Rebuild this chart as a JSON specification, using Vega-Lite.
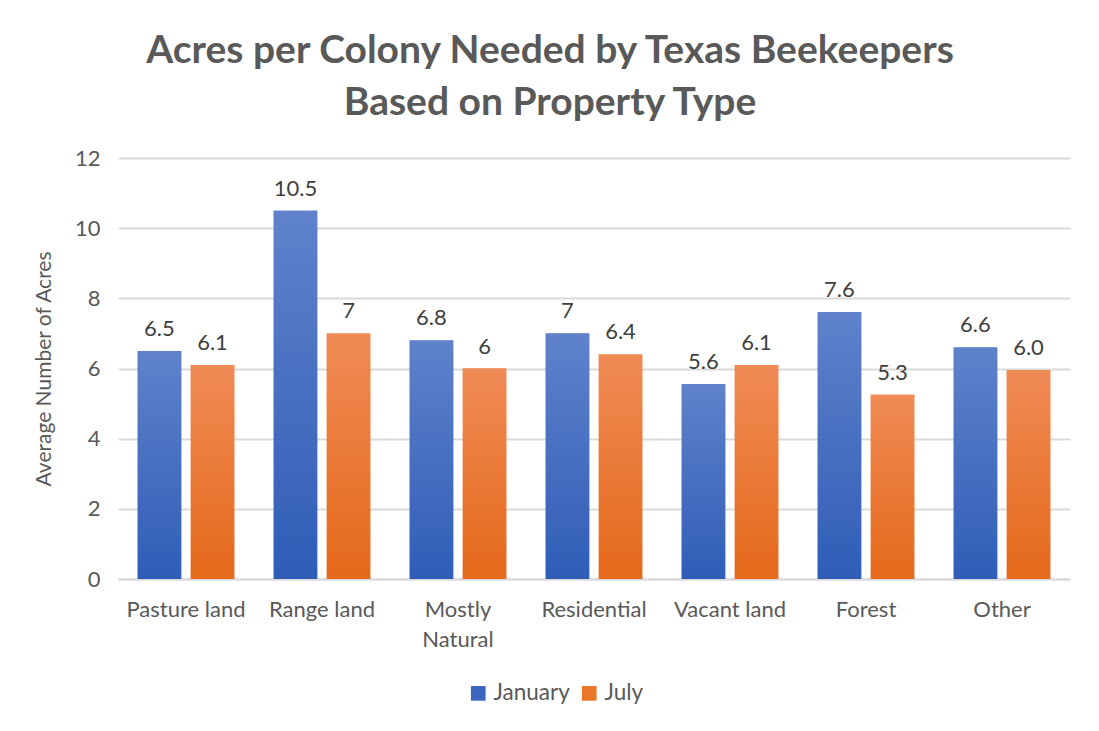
{
  "$schema": "https://vega.github.io/schema/vega-lite/v6.json",
  "autosize": {"type": "none"},
  "width": 952,
  "height": 421,
  "padding": {"left": 118, "top": 158, "right": 29, "bottom": 152},
  "background": "white",
  "title": {
    "text": ["Acres per Colony Needed by Texas Beekeepers", "Based on Property Type"],
    "font": "Lato",
    "fontSize": 39,
    "fontWeight": "bold",
    "color": "#595959",
    "anchor": "middle",
    "dx": -44,
    "lineHeight": 52,
    "offset": 24
  },
  "data": {
    "values": [
      {"type": "Pasture land", "month": "January", "acres": 6.5, "label": "6.5"},
      {"type": "Pasture land", "month": "July", "acres": 6.1, "label": "6.1"},
      {"type": "Range land", "month": "January", "acres": 10.5, "label": "10.5"},
      {"type": "Range land", "month": "July", "acres": 7, "label": "7"},
      {"type": "Mostly Natural", "month": "January", "acres": 6.8, "label": "6.8"},
      {"type": "Mostly Natural", "month": "July", "acres": 6, "label": "6"},
      {"type": "Residential", "month": "January", "acres": 7, "label": "7"},
      {"type": "Residential", "month": "July", "acres": 6.4, "label": "6.4"},
      {"type": "Vacant land", "month": "January", "acres": 5.55, "label": "5.6"},
      {"type": "Vacant land", "month": "July", "acres": 6.1, "label": "6.1"},
      {"type": "Forest", "month": "January", "acres": 7.6, "label": "7.6"},
      {"type": "Forest", "month": "July", "acres": 5.25, "label": "5.3"},
      {"type": "Other", "month": "January", "acres": 6.6, "label": "6.6"},
      {"type": "Other", "month": "July", "acres": 5.95, "label": "6.0"}
    ]
  },
  "encoding": {
    "x": {
      "field": "type",
      "type": "nominal",
      "sort": null,
      "scale": {"paddingInner": 0.29, "paddingOuter": 0.145},
      "axis": {
        "title": null,
        "labelAngle": 0,
        "labelFont": "Lato",
        "labelFontSize": 22,
        "labelColor": "#595959",
        "labelPadding": 20,
        "labelLineHeight": 30,
        "labelExpr": "datum.value == 'Mostly Natural' ? ['Mostly', 'Natural'] : datum.value",
        "domainColor": "#d9d9d9",
        "domainWidth": 2,
        "ticks": false
      }
    },
    "xOffset": {
      "field": "month",
      "type": "nominal",
      "sort": ["January", "July"],
      "scale": {"paddingInner": 0.18}
    },
    "y": {
      "field": "acres",
      "type": "quantitative",
      "scale": {"domain": [0, 12], "nice": false},
      "axis": {
        "title": "Average Number of Acres",
        "titleFont": "Lato",
        "titleFontSize": 21,
        "titleFontWeight": "normal",
        "titleColor": "#595959",
        "titlePadding": 20,
        "values": [0, 2, 4, 6, 8, 10, 12],
        "labelFont": "Lato",
        "labelFontSize": 22,
        "labelColor": "#595959",
        "labelPadding": 18,
        "domain": false,
        "ticks": false,
        "gridColor": "#d9d9d9",
        "gridWidth": 2
      }
    }
  },
  "layer": [
    {
      "mark": {"type": "bar"},
      "encoding": {
        "color": {
          "field": "month",
          "type": "nominal",
          "sort": ["January", "July"],
          "scale": {"domain": ["January", "July"], "range": ["#3a66c0", "#ec7628"]},
          "legend": {
            "title": null,
            "orient": "none",
            "legendX": 349,
            "legendY": 524,
            "direction": "horizontal",
            "symbolType": "square",
            "symbolSize": 215,
            "symbolStrokeWidth": 0,
            "labelFont": "Lato",
            "labelFontSize": 22.5,
            "labelColor": "#595959",
            "labelOffset": 4,
            "columnPadding": 8,
            "padding": 0
          }
        }
      }
    },
    {
      "transform": [{"filter": "datum.month == 'January'"}],
      "mark": {
        "type": "bar",
        "color": {
          "gradient": "linear",
          "x1": 0, "y1": 0, "x2": 0, "y2": 1,
          "stops": [
            {"offset": 0, "color": "#5f82cb"},
            {"offset": 1, "color": "#2f5db6"}
          ]
        }
      },
      "encoding": {}
    },
    {
      "transform": [{"filter": "datum.month == 'July'"}],
      "mark": {
        "type": "bar",
        "color": {
          "gradient": "linear",
          "x1": 0, "y1": 0, "x2": 0, "y2": 1,
          "stops": [
            {"offset": 0, "color": "#f08b56"},
            {"offset": 1, "color": "#e4691a"}
          ]
        }
      },
      "encoding": {}
    },
    {
      "mark": {
        "type": "text",
        "baseline": "bottom",
        "dy": -10,
        "font": "Lato",
        "fontSize": 22,
        "color": "#404040"
      },
      "encoding": {
        "text": {"field": "label", "type": "nominal"}
      }
    }
  ],
  "config": {
    "view": {"stroke": null}
  }
}
